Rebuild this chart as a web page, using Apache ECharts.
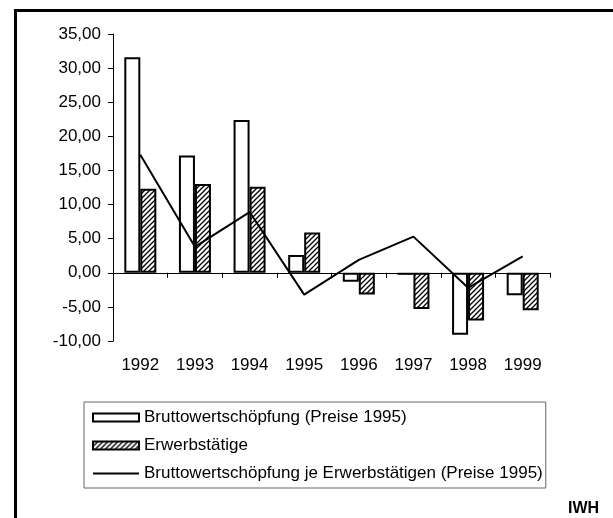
<!DOCTYPE html>
<html>
<head>
<meta charset="utf-8">
<script src="https://cdn.jsdelivr.net/npm/echarts@6/dist/echarts.min.js"></script>
<style>
html,body{margin:0;padding:0;background:#fff;}
#chart{width:613px;height:518px;}
</style>
</head>
<body>
<div id="chart"></div>
<script>
const categories = ['1992','1993','1994','1995','1996','1997','1998','1999'];
const seriesNames = [
  'Bruttowertschöpfung (Preise 1995)',
  'Erwerbstätige',
  'Bruttowertschöpfung je Erwerbstätigen (Preise 1995)'
];
const bruttoValues = [31.6, 17.2, 22.4, 2.6, -1.3, -0.3, -9.1, -3.3];
const erwerbValues = [12.3, 13.0, 12.6, 5.9, -3.2, -5.3, -7.0, -5.5];
const jeErwerbValues = [17.3, 3.8, 8.9, -3.2, 1.9, 5.3, -2.2, 2.4];
const yMin = -10, yMax = 35, yStep = 5;
const sourceLabel = 'IWH';

const FONT = '"Liberation Sans", Arial, sans-serif';

// hatch pattern
const tile = document.createElement('canvas');
const S = 5;
tile.width = S; tile.height = S;
const tc = tile.getContext('2d');
tc.fillStyle = '#fff';
tc.fillRect(0,0,S,S);
tc.strokeStyle = '#000';
tc.lineWidth = 1.3;
tc.beginPath();
tc.moveTo(-1, S+1); tc.lineTo(S+1, -1);
tc.moveTo(-1, 1); tc.lineTo(1, -1);
tc.moveTo(S-1, S+1); tc.lineTo(S+1, S-1);
tc.stroke();
const hatch = {image: tile, repeat: 'repeat'};

const chart = echarts.init(document.getElementById('chart'), null, {renderer:'canvas'});
chart.setOption({
  animation: false,
  backgroundColor: '#fff',
  textStyle: {fontFamily: FONT, color: '#000'},
  grid: {left: 113, right: 63, top: 34, bottom: 177, containLabel: false},
  xAxis: [{
    type: 'category',
    data: categories,
    position: 'bottom',
    axisLine: {onZero: true, lineStyle: {color: '#000', width: 1}},
    axisTick: {show: true, alignWithLabel: false, length: 5, inside: false, lineStyle: {color: '#000'}},
    axisLabel: {show: false},
    splitLine: {show: false}
  }, {
    type: 'category',
    data: categories,
    position: 'bottom',
    axisLine: {show: false, onZero: false},
    axisTick: {show: false},
    axisLabel: {show: true, margin: 16, fontSize: 17, color: '#000', fontFamily: FONT},
    splitLine: {show: false}
  }],
  yAxis: {
    type: 'value',
    min: yMin, max: yMax, interval: yStep,
    axisLine: {show: true, lineStyle: {color: '#000', width: 1}},
    axisTick: {show: true, length: 5, lineStyle: {color: '#000'}},
    axisLabel: {margin: 12, fontSize: 17, color: '#000', fontFamily: FONT,
      formatter: v => v.toFixed(2).replace('.', ',')},
    splitLine: {show: false}
  },
  legend: {
    orient: 'vertical',
    left: 84, top: 402,
    padding: [7, 3, 6, 8],
    borderColor: '#666', borderWidth: 1,
    itemWidth: 46, itemHeight: 8, itemGap: 11,
    symbolKeepAspect: true,
    textStyle: {fontSize: 17, color: '#000', fontFamily: FONT},
    data: [
      {name: seriesNames[0], icon: 'rect'},
      {name: seriesNames[1], icon: 'rect'},
      {name: seriesNames[2], icon: 'path://M0,0H46V2H0Z',
        itemStyle: {color: '#000', borderWidth: 0}}
    ]
  },
  series: [{
    name: seriesNames[0],
    type: 'bar',
    data: bruttoValues,
    barWidth: 16,
    barGap: '0%',
    itemStyle: {color: '#fff', borderColor: '#000', borderWidth: 2}
  }, {
    name: seriesNames[1],
    type: 'bar',
    data: erwerbValues,
    barWidth: 16,
    barGap: '0%',
    itemStyle: {color: hatch, borderColor: '#000', borderWidth: 2}
  }, {
    name: seriesNames[2],
    type: 'line',
    data: jeErwerbValues,
    symbol: 'none',
    lineStyle: {color: '#000', width: 2},
    itemStyle: {color: '#000'},
    z: 5
  }],
  graphic: [{
    type: 'rect',
    shape: {x: 15.5, y: 10.5, width: 800, height: 800},
    style: {fill: 'none', stroke: '#000', lineWidth: 3},
    silent: true
  }, {
    type: 'text',
    left: 568, top: 501,
    style: {text: sourceLabel, font: 'bold 16px ' + FONT, fill: '#000'}
  }]
});
</script>
</body>
</html>
